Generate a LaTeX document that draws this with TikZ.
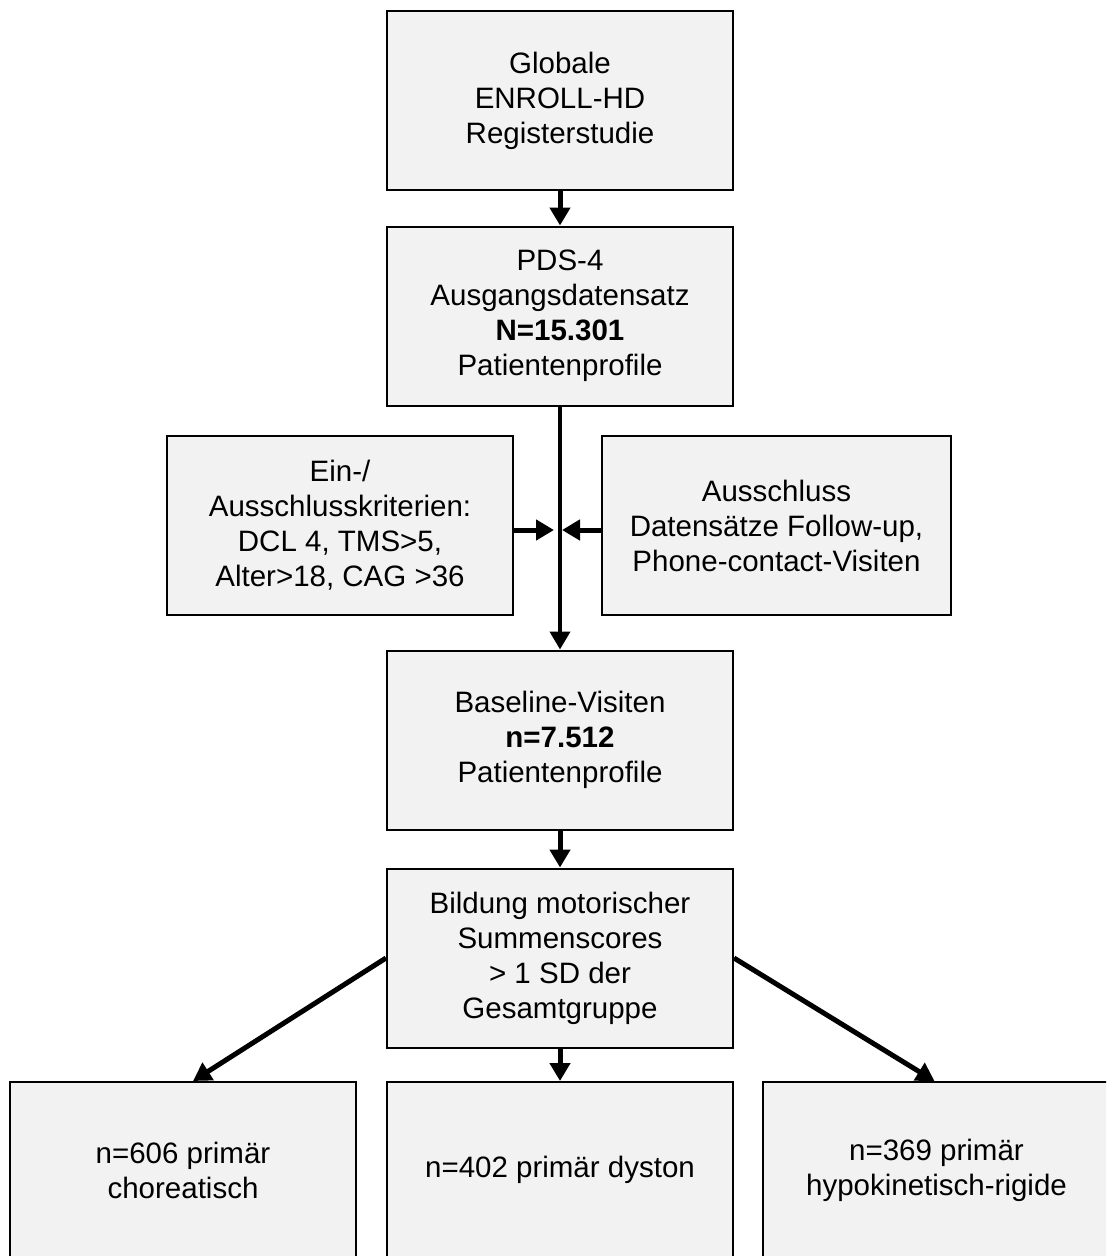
\documentclass[tikz,border=0pt]{standalone}
\usepackage{fontspec}
\setmainfont{Liberation Sans}
\usetikzlibrary{arrows.meta}
\definecolor{boxfill}{HTML}{F2F2F2}
\tikzset{
  box/.style={draw=black, line width=2pt, fill=boxfill, minimum width=346pt, minimum height=179pt,
    align=center, font=\fontsize{29.5}{35}\selectfont, inner sep=0pt},
  arr/.style={line width=5pt, -{Triangle[length=18pt,width=20pt]}},
  conn/.style={line width=4pt, -{Triangle[length=18pt,width=20pt]}}
}
\begin{document}
\begin{tikzpicture}[x=1pt,y=-1pt]
\useasboundingbox[fill=white] (0,0) rectangle (1106,1258);
\begin{scope}
\clip (0,0) rectangle (1106,1255);
\node[box] (glob) at (560,100.5) {Globale\\ENROLL-HD\\Registerstudie};
\node[box] (pds) at (560,316) {PDS-4\\Ausgangsdatensatz\\\textbf{N=15.301}\\Patientenprofile};
\node[box] (ein) at (340,525) {Ein-/\\Ausschlusskriterien:\\DCL 4, TMS>5,\\Alter>18, CAG >36};
\node[box, minimum width=349pt] (aus) at (776.5,525.5) {Ausschluss\\Datensätze Follow-up,\\Phone-contact-Visiten};
\node[box] (base) at (560,740) {Baseline-Visiten\\\textbf{n=7.512}\\Patientenprofile};
\node[box] (bild) at (560,958) {Bildung motorischer\\Summenscores\\> 1 SD der\\Gesamtgruppe};
\node[box, minimum height=176pt] (cho) at (183,1170) {n=606 primär\\choreatisch};
\node[box, minimum height=176pt] (dys) at (560,1170) {n=402 primär dyston};
\node[box, minimum height=176pt, minimum width=347pt] (hyp) at (936.5,1170) {n=369 primär\\hypokinetisch-rigide};

\coordinate (jl) at (554,530);
\coordinate (jr) at (562,530);

\draw[arr] (glob.south) -- (pds.north);
\draw[conn] (pds.south) -- (base.north);
\draw[arr] (ein.east |- jl) -- (jl);
\draw[arr] (aus.west |- jr) -- (jr);
\draw[arr] (base.south) -- (bild.north);
\draw[arr] (bild.west) -- ([xshift=10pt]cho.north);
\draw[arr] (bild.south) -- (dys.north);
\draw[arr] (bild.east) -- ([xshift=-2pt]hyp.north);
\end{scope}
\end{tikzpicture}
\end{document}
